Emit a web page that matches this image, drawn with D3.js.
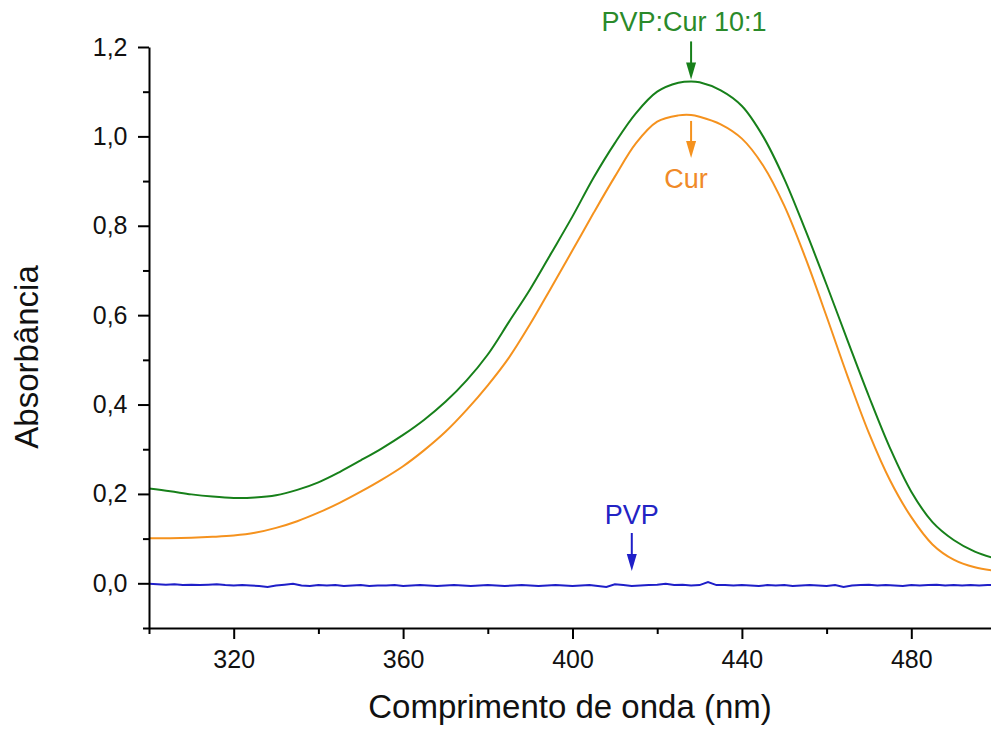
<!DOCTYPE html>
<html>
<head>
<meta charset="utf-8">
<script src="https://cdn.jsdelivr.net/npm/d3@7/dist/d3.min.js"></script>
<style>
  html, body { margin: 0; padding: 0; background: #fff; }
  svg { display: block; font-family: "Liberation Sans", Arial, sans-serif; }
</style>
</head>
<body>
<svg id="chart" width="991" height="729"></svg>
<script>
// UV-Vis absorption spectra: PVP, curcumin and PVP:Cur 10:1
const wavelengths = [300,305,310,315,320,325,330,335,340,345,350,355,360,365,370,375,380,385,390,395,
                     400,405,410,415,420,425,428,430,435,440,445,450,455,460,465,470,475,480,485,490,495,500];
const pvpCur = [0.212,0.206,0.199,0.194,0.191,0.192,0.197,0.209,0.226,0.249,0.275,0.302,0.332,0.366,0.406,0.454,0.512,0.585,0.658,0.739,
                0.821,0.908,0.985,1.052,1.100,1.120,1.123,1.121,1.103,1.068,1.000,0.905,0.790,0.668,0.542,0.418,0.302,0.205,0.137,0.097,0.071,0.055];
const cur =    [0.101,0.101,0.102,0.104,0.107,0.113,0.124,0.139,0.158,0.180,0.205,0.232,0.262,0.298,0.339,0.388,0.443,0.505,0.580,0.662,
                0.745,0.829,0.910,0.985,1.033,1.047,1.048,1.044,1.027,0.995,0.935,0.845,0.728,0.597,0.462,0.336,0.230,0.148,0.087,0.053,0.036,0.028];

// PVP baseline, every 2 nm from 300 to 500
const pvpStart = 300, pvpStep = 2;
const pvp = [-0.001,-0.002,-0.003,-0.002,-0.004,-0.003,-0.004,-0.003,-0.002,-0.004,
             -0.005,-0.004,-0.005,-0.006,-0.008,-0.005,-0.003,-0.001,-0.005,-0.006,
             -0.004,-0.005,-0.004,-0.006,-0.005,-0.004,-0.006,-0.005,-0.005,-0.004,
             -0.006,-0.005,-0.004,-0.005,-0.006,-0.005,-0.004,-0.005,-0.006,-0.005,
             -0.004,-0.005,-0.006,-0.005,-0.004,-0.005,-0.006,-0.005,-0.004,-0.005,
             -0.006,-0.005,-0.004,-0.006,-0.008,-0.002,-0.004,-0.006,-0.005,-0.004,
             -0.003,-0.001,-0.004,-0.003,-0.005,-0.004,0.003,-0.004,-0.004,-0.005,
             -0.004,-0.005,-0.006,-0.004,-0.005,-0.004,-0.006,-0.005,-0.004,-0.005,
             -0.006,-0.004,-0.008,-0.005,-0.004,-0.003,-0.005,-0.004,-0.005,-0.006,
             -0.004,-0.005,-0.004,-0.003,-0.005,-0.004,-0.005,-0.004,-0.005,-0.004,-0.004];

const xMajorTicks = [320,360,400,440,480];
const xMinorTicks = [300,340,380,420,460,500];
const yMajorTicks = [0.0,0.2,0.4,0.6,0.8,1.0,1.2];
const yMinorTicks = [-0.1,0.1,0.3,0.5,0.7,0.9,1.1];

const labels = [
  { text: "PVP:Cur 10:1", at: 428, series: "pvpCur", color: "#2a8a2a", stroke: "#17801a", shift: -7 },
  { text: "Cur",          at: 428, series: "cur",    color: "#f08a28", stroke: "#f5921e", shift: -5 },
  { text: "PVP",          at: 414, series: "pvp",    color: "#2323c4", stroke: "#1f1fc8", shift: 0 }
];

const svg = d3.select("#chart");
const x = d3.scaleLinear().domain([300, 500]).range([149, 996]);
const y = d3.scaleLinear().domain([-0.1, 1.2]).range([628, 47]);

const fmt = d => d3.format(".1f")(d).replace(".", ",");

// Curves
const specLine = d3.line().x(d => x(d[0])).y(d => y(d[1])).curve(d3.curveCatmullRom.alpha(0.5));
const baseLine = d3.line().x(d => x(d[0])).y(d => y(d[1]));

const greenPts = wavelengths.map((w, i) => [w, pvpCur[i]]);
const orangePts = wavelengths.map((w, i) => [w, cur[i]]);
const bluePts = pvp.map((v, i) => [pvpStart + i * pvpStep, v]);

svg.append("path").datum(bluePts).attr("d", baseLine)
  .attr("fill", "none").attr("stroke", "#1f1fc8").attr("stroke-width", 2);
svg.append("path").datum(orangePts).attr("d", specLine)
  .attr("fill", "none").attr("stroke", "#f5921e").attr("stroke-width", 2);
svg.append("path").datum(greenPts).attr("d", specLine)
  .attr("fill", "none").attr("stroke", "#17801a").attr("stroke-width", 2);

// Axes
const xAxis = svg.append("g").attr("transform", `translate(0,${y(-0.1)})`);
xAxis.call(d3.axisBottom(x).tickValues(xMajorTicks).tickSize(11).tickSizeOuter(0).tickFormat(d3.format("d")));
xAxis.append("g").call(d3.axisBottom(x).tickValues(xMinorTicks).tickSize(6).tickSizeOuter(0).tickFormat(""))
  .select(".domain").remove();

const yAxis = svg.append("g").attr("transform", `translate(${x(300)},0)`);
yAxis.call(d3.axisLeft(y).tickValues(yMajorTicks).tickSize(11).tickSizeOuter(0).tickFormat(fmt));
yAxis.append("g").call(d3.axisLeft(y).tickValues(yMinorTicks).tickSize(6).tickSizeOuter(0).tickFormat(""))
  .select(".domain").remove();

svg.selectAll(".domain").attr("stroke", "#000").attr("stroke-width", 2);
svg.selectAll(".tick line").attr("stroke", "#000").attr("stroke-width", 2);
svg.selectAll(".tick text").attr("font-size", 25).attr("fill", "#111")
  .attr("font-family", "'Liberation Sans', Arial, sans-serif");
xAxis.selectAll(".tick text").attr("dy", "1.05em");
yAxis.selectAll(".tick text").attr("dx", "-0.3em");

// Axis titles
svg.append("text").attr("x", (x(300) + 991) / 2).attr("y", 718)
  .attr("text-anchor", "middle").attr("font-size", 33).attr("fill", "#111")
  .text("Comprimento de onda (nm)");
svg.append("text").attr("transform", "translate(38,357) rotate(-90)")
  .attr("text-anchor", "middle").attr("font-size", 33).attr("fill", "#111")
  .text("Absorbância");

// Arrow annotations
const valueAt = (series, w) => {
  if (series === "pvp") {
    return pvp[Math.round((w - pvpStart) / pvpStep)];
  }
  const arr = series === "cur" ? cur : pvpCur;
  return d3.scaleLinear().domain(wavelengths).range(arr)(w);
};

labels.forEach(l => {
  const px = x(l.at);
  const py = y(valueAt(l.series, l.at));
  let tipY, tailY, textY;
  if (l.series === "cur") {
    // arrow hangs below the peak, label under it
    tailY = py + 6; tipY = py + 43; textY = tipY + 30;
  } else if (l.series === "pvp") {
    tipY = py - 15; tailY = tipY - 38; textY = tailY - 9;
  } else {
    tipY = py - 2; tailY = py - 40; textY = tailY - 10;
  }
  svg.append("line").attr("x1", px).attr("x2", px).attr("y1", tailY).attr("y2", tipY - 14)
    .attr("stroke", l.stroke).attr("stroke-width", 2);
  svg.append("path")
    .attr("d", `M${px - 5},${tipY - 17} L${px + 5},${tipY - 17} L${px},${tipY} Z`)
    .attr("fill", l.stroke);
  svg.append("text").attr("x", px + l.shift).attr("y", textY)
    .attr("text-anchor", "middle").attr("font-size", 27).attr("fill", l.color)
    .text(l.text);
});
</script>
</body>
</html>
